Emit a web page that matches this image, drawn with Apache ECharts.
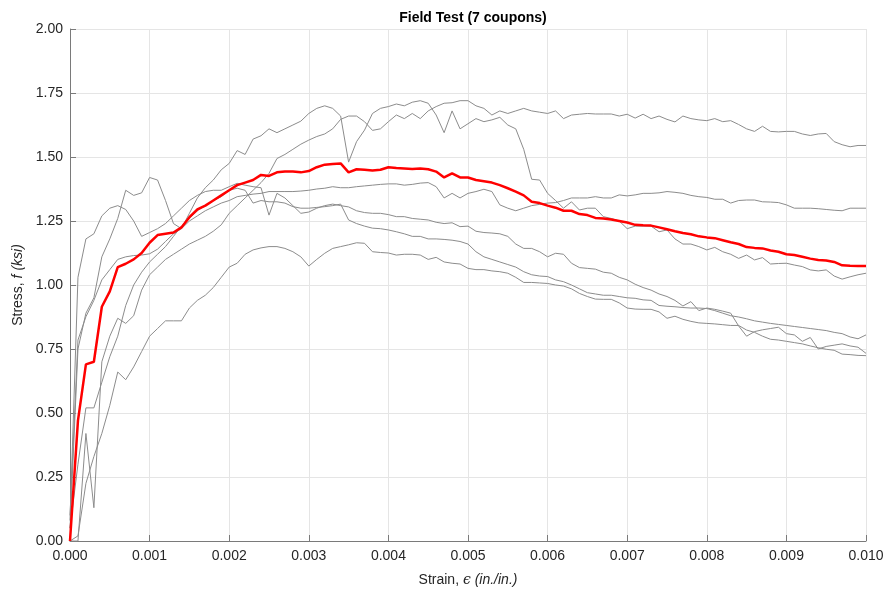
<!DOCTYPE html>
<html><head><meta charset="utf-8">
<script src="https://cdn.jsdelivr.net/npm/echarts@6/dist/echarts.min.js"></script>
<style>html,body{margin:0;padding:0;background:#fff}#c{width:889px;height:598px}</style>
</head><body><div id="c"></div>
<script>
const strain = [0.0000,0.0001,0.0002,0.0003,0.0004,0.0005,0.0006,0.0007,0.0008,0.0009,
0.0010,0.0011,0.0012,0.0013,0.0014,0.0015,0.0016,0.0017,0.0018,0.0019,
0.0020,0.0021,0.0022,0.0023,0.0024,0.0025,0.0026,0.0027,0.0028,0.0029,
0.0030,0.0031,0.0032,0.0033,0.0034,0.0035,0.0036,0.0037,0.0038,0.0039,
0.0040,0.0041,0.0042,0.0043,0.0044,0.0045,0.0046,0.0047,0.0048,0.0049,
0.0050,0.0051,0.0052,0.0053,0.0054,0.0055,0.0056,0.0057,0.0058,0.0059,
0.0060,0.0061,0.0062,0.0063,0.0064,0.0065,0.0066,0.0067,0.0068,0.0069,
0.0070,0.0071,0.0072,0.0073,0.0074,0.0075,0.0076,0.0077,0.0078,0.0079,
0.0080,0.0081,0.0082,0.0083,0.0084,0.0085,0.0086,0.0087,0.0088,0.0089,
0.0090,0.0091,0.0092,0.0093,0.0094,0.0095,0.0096,0.0097,0.0098,0.0099,0.0100];

const coupon1 = [0.05,0.75,0.89,0.95,1.11,1.18,1.26,1.37,1.35,1.36,
1.42,1.41,1.33,1.24,1.22,1.28,1.34,1.38,1.41,1.45,
1.475,1.525,1.51,1.57,1.583,1.61,1.595,1.61,1.625,1.64,
1.67,1.69,1.70,1.69,1.66,1.48,1.56,1.605,1.67,1.69,
1.697,1.707,1.70,1.714,1.72,1.71,1.664,1.595,1.68,1.61,
1.63,1.65,1.638,1.645,1.655,1.625,1.61,1.53,1.413,1.41,
1.358,1.33,1.30,1.325,1.293,1.30,1.30,1.267,1.26,1.25,
1.22,1.23,1.23,1.23,1.208,1.215,1.18,1.16,1.16,1.15,
1.137,1.147,1.13,1.12,1.104,1.117,1.098,1.107,1.082,1.084,
1.085,1.078,1.072,1.059,1.055,1.059,1.035,1.023,1.032,1.04,1.046];

const coupon2 = [0.0,0.0,0.42,0.13,0.70,0.80,0.87,0.85,0.88,0.98,
1.04,1.07,1.10,1.12,1.14,1.16,1.175,1.19,1.21,1.235,
1.28,1.31,1.34,1.37,1.40,1.436,1.494,1.51,1.53,1.55,
1.566,1.58,1.59,1.61,1.647,1.66,1.66,1.638,1.604,1.61,
1.638,1.664,1.65,1.67,1.65,1.68,1.697,1.71,1.712,1.72,
1.72,1.70,1.69,1.664,1.68,1.67,1.68,1.69,1.68,1.675,
1.67,1.68,1.65,1.664,1.667,1.67,1.668,1.668,1.668,1.66,
1.667,1.652,1.667,1.65,1.66,1.647,1.637,1.66,1.65,1.645,
1.642,1.65,1.638,1.642,1.627,1.61,1.60,1.62,1.60,1.598,
1.60,1.60,1.59,1.584,1.59,1.592,1.56,1.548,1.54,1.545,1.545];

const coupon3 = [0.08,1.03,1.18,1.20,1.27,1.30,1.31,1.295,1.25,1.19,
1.205,1.22,1.24,1.27,1.30,1.33,1.35,1.365,1.37,1.37,
1.384,1.397,1.39,1.384,1.38,1.273,1.358,1.34,1.31,1.28,
1.285,1.30,1.31,1.316,1.31,1.305,1.29,1.283,1.28,1.28,
1.275,1.267,1.267,1.26,1.257,1.254,1.245,1.24,1.243,1.228,
1.23,1.21,1.205,1.203,1.20,1.19,1.16,1.143,1.143,1.13,
1.11,1.124,1.12,1.085,1.068,1.065,1.062,1.05,1.046,1.03,
1.02,1.003,0.99,0.98,0.965,0.955,0.94,0.918,0.935,0.90,
0.91,0.905,0.898,0.89,0.84,0.80,0.818,0.825,0.83,0.835,
0.81,0.805,0.78,0.795,0.75,0.76,0.765,0.77,0.762,0.757,0.733];

const coupon4 = [0.05,0.30,0.52,0.52,0.62,0.72,0.80,0.92,1.00,1.05,
1.09,1.12,1.15,1.19,1.23,1.26,1.29,1.31,1.33,1.345,
1.37,1.378,1.37,1.32,1.33,1.325,1.325,1.32,1.306,1.30,
1.30,1.303,1.306,1.31,1.316,1.254,1.24,1.23,1.222,1.22,
1.215,1.208,1.20,1.19,1.19,1.18,1.18,1.178,1.175,1.17,
1.16,1.13,1.11,1.10,1.09,1.08,1.07,1.052,1.04,1.035,
1.033,1.02,1.013,1.00,0.985,0.97,0.965,0.96,0.96,0.955,
0.95,0.948,0.942,0.94,0.92,0.917,0.915,0.912,0.91,0.91,
0.908,0.90,0.89,0.88,0.875,0.868,0.86,0.855,0.85,0.846,
0.842,0.838,0.834,0.83,0.826,0.822,0.815,0.81,0.797,0.79,0.805];

const coupon5 = [0.10,0.785,0.876,0.94,1.02,1.06,1.10,1.11,1.115,1.117,
1.122,1.14,1.17,1.20,1.22,1.25,1.27,1.29,1.305,1.32,
1.33,1.345,1.35,1.355,1.358,1.365,1.365,1.365,1.365,1.367,
1.37,1.375,1.378,1.384,1.38,1.38,1.384,1.387,1.39,1.393,
1.395,1.395,1.39,1.393,1.398,1.40,1.384,1.34,1.358,1.34,
1.358,1.365,1.374,1.365,1.313,1.30,1.29,1.30,1.31,1.315,
1.32,1.322,1.33,1.34,1.34,1.34,1.345,1.34,1.34,1.352,
1.348,1.352,1.358,1.358,1.36,1.365,1.362,1.358,1.35,1.345,
1.342,1.335,1.335,1.32,1.33,1.332,1.332,1.325,1.324,1.322,
1.313,1.30,1.30,1.30,1.298,1.295,1.292,1.29,1.30,1.30,1.30];

const coupon6 = [0.0,0.02,0.225,0.33,0.42,0.53,0.66,0.63,0.68,0.74,
0.80,0.83,0.86,0.86,0.86,0.91,0.94,0.96,0.99,1.03,
1.07,1.085,1.12,1.137,1.145,1.15,1.15,1.143,1.13,1.11,
1.074,1.10,1.124,1.143,1.15,1.157,1.165,1.163,1.13,1.127,
1.125,1.117,1.12,1.12,1.117,1.10,1.108,1.09,1.085,1.082,
1.065,1.06,1.06,1.055,1.052,1.046,1.03,1.01,1.01,1.008,
1.006,1.00,0.996,0.985,0.967,0.955,0.945,0.944,0.944,0.93,
0.91,0.906,0.905,0.905,0.895,0.87,0.878,0.866,0.858,0.852,
0.85,0.848,0.845,0.842,0.842,0.824,0.815,0.80,0.788,0.785,
0.78,0.775,0.77,0.762,0.755,0.749,0.745,0.73,0.728,0.725,0.724];

const average = [0,0.47,0.69,0.70,0.915,0.975,1.07,1.083,1.10,1.125,
1.165,1.195,1.20,1.205,1.225,1.265,1.295,1.31,1.33,1.35,
1.37,1.39,1.40,1.41,1.43,1.426,1.44,1.443,1.443,1.44,
1.445,1.46,1.47,1.473,1.475,1.44,1.452,1.45,1.447,1.45,
1.46,1.457,1.455,1.453,1.455,1.452,1.443,1.42,1.436,1.42,
1.42,1.41,1.405,1.40,1.39,1.378,1.365,1.35,1.325,1.32,
1.31,1.302,1.29,1.29,1.277,1.273,1.262,1.26,1.256,1.25,
1.244,1.235,1.233,1.232,1.225,1.218,1.21,1.203,1.198,1.19,
1.186,1.183,1.175,1.167,1.16,1.148,1.145,1.143,1.135,1.13,
1.12,1.117,1.11,1.103,1.098,1.096,1.09,1.077,1.075,1.074,1.074];

const coupons = [coupon1, coupon2, coupon3, coupon4, coupon5, coupon6];
const xTicks = [0,0.001,0.002,0.003,0.004,0.005,0.006,0.007,0.008,0.009,0.010];
const yTicks = [0,0.25,0.5,0.75,1.0,1.25,1.5,1.75,2.0];

const pairs = arr => strain.map((s, i) => [s, arr[i]]);
const txt = '#262626';
const series = coupons.map(c => ({
  type: 'line', data: pairs(c), symbol: 'none', silent: true,
  lineStyle: {color: '#8c8c8c', width: 1}, z: 2
}));
series.push({
  type: 'line', data: pairs(average), symbol: 'none', silent: true,
  lineStyle: {color: '#ff0000', width: 2.5}, z: 3
});

const chart = echarts.init(document.getElementById('c'), null, {renderer: 'canvas'});
chart.setOption({
  animation: false,
  backgroundColor: '#ffffff',
  title: {
    text: 'Field Test (7 coupons)', left: 468, top: 6, textAlign: 'center',
    textStyle: {fontFamily: 'Liberation Sans', fontSize: 14, fontWeight: 'bold', color: '#000'}
  },
  grid: {left: 70, right: 23, top: 29, bottom: 57, containLabel: false},
  xAxis: {
    type: 'value', min: 0, max: 0.010, interval: 0.001,
    name: 'Strain, {e|\u03F5} {it|(in./in.)}', nameLocation: 'middle', nameGap: 32,
    nameTextStyle: {fontFamily: 'Liberation Sans', fontSize: 14, color: txt,
      rich: {it: {fontStyle: 'italic', fontFamily: 'Liberation Sans', fontSize: 14, color: txt},
             e: {fontFamily: 'DejaVu Serif', fontStyle: 'italic', fontSize: 14, color: txt}}},
    axisLine: {show: true, lineStyle: {color: '#7a7a7a', width: 1}},
    axisTick: {show: true, inside: true, length: 6, lineStyle: {color: '#7a7a7a'}},
    axisLabel: {fontFamily: 'Liberation Sans', fontSize: 14, color: txt, margin: 8,
      formatter: v => v.toFixed(3)},
    splitLine: {show: true, lineStyle: {color: '#e5e5e5', width: 1}}
  },
  yAxis: {
    type: 'value', min: 0, max: 2, interval: 0.25,
    name: 'Stress, {it|f (ksi)}', nameLocation: 'middle', nameGap: 44,
    nameTextStyle: {fontFamily: 'Liberation Sans', fontSize: 14, color: txt,
      rich: {it: {fontStyle: 'italic', fontFamily: 'Liberation Sans', fontSize: 14, color: txt}}},
    axisLine: {show: true, lineStyle: {color: '#7a7a7a', width: 1}},
    axisTick: {show: true, inside: true, length: 6, lineStyle: {color: '#7a7a7a'}},
    axisLabel: {fontFamily: 'Liberation Sans', fontSize: 14, color: txt, margin: 7,
      formatter: v => v.toFixed(2)},
    splitLine: {show: true, lineStyle: {color: '#e5e5e5', width: 1}}
  },
  series: series
});
</script></body></html>
